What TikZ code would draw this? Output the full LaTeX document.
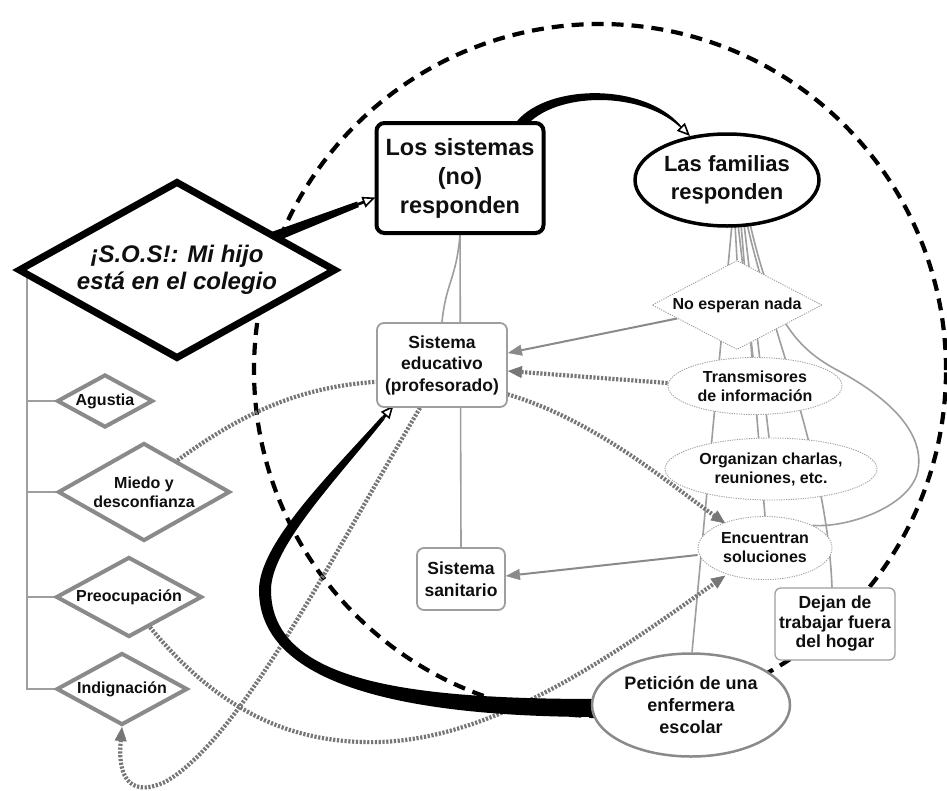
\documentclass[tikz,border=0pt]{standalone}
\usepackage{fontspec}
\setmainfont{Liberation Sans}
\usetikzlibrary{shapes.geometric,arrows.meta,calc,backgrounds}
\definecolor{mygray}{RGB}{138,138,138}
\definecolor{dgray}{RGB}{118,118,118}
\definecolor{lgray}{RGB}{158,158,158}
\definecolor{txt}{RGB}{15,15,15}
\begin{document}
\begin{tikzpicture}[x=1pt,y=1pt,
  nbase/.style={text=txt, align=center, inner sep=0pt, fill=white},
  sosd/.style={nbase, diamond, draw=black, line width=7pt, aspect=1.79, minimum width=318pt, minimum height=178pt, font=\fontsize{24}{27}\selectfont\bfseries\itshape},
  emo/.style={nbase, diamond, draw=mygray, line width=4pt, font=\fontsize{16}{19}\selectfont\bfseries},
  bigbox/.style={nbase, rectangle, rounded corners=8pt, draw=black, line width=4pt, font=\fontsize{23.5}{29}\selectfont\bfseries},
  bigell/.style={nbase, ellipse, draw=black, line width=3.5pt, font=\fontsize{22}{28}\selectfont\bfseries},
  sysbox/.style={nbase, rectangle, rounded corners=7pt, draw=lgray, line width=1.8pt, font=\fontsize{17.5}{21.5}\selectfont\bfseries},
  finedash/.style={draw=lgray, line width=0.9pt, dash pattern=on 1.2pt off 1.2pt},
  dotell/.style={nbase, ellipse, finedash, font=\fontsize{16}{19}\selectfont\bfseries},
  dotdiam/.style={nbase, diamond, finedash, font=\fontsize{16}{19}\selectfont\bfseries},
  dejbox/.style={nbase, rectangle, rounded corners=6pt, draw=lgray, line width=1.3pt, font=\fontsize{17.5}{19.5}\selectfont\bfseries},
  petell/.style={nbase, ellipse, draw=mygray, line width=2.5pt, font=\fontsize{18}{22}\selectfont\bfseries},
  treeline/.style={draw=lgray, line width=1.8pt},
  glink/.style={draw=lgray, line width=1.6pt},
  garrow/.style={draw=mygray, line width=2pt, -{Triangle[length=14pt,width=11pt,line width=0.5pt]}},
  dotarrow/.style={draw=dgray, line width=4.2pt, dash pattern=on 2.2pt off 1.6pt, -{Triangle[length=14pt,width=12pt,line width=0.5pt]}},
  openarrow/.style={draw=black, -{Triangle[open,length=13pt,width=11pt,line width=1.6pt]}},
  circdash/.style={draw=black, line width=4.2pt, dash pattern=on 12pt off 8pt},
]
\useasboundingbox (0,0) rectangle (947,-790);

% nodes
\node[sosd] (sos) at (177,-270) {¡S.O.S!: Mi hijo\\está en el colegio};
\node[emo, minimum width=96pt, minimum height=53pt, aspect=1.82] (agus) at (105,-401) {Agustia};
\node[emo, minimum width=172pt, minimum height=98pt, aspect=1.76] (miedo) at (144,-492) {Miedo y\\desconfianza};
\node[emo, minimum width=146pt, minimum height=80pt, aspect=1.83] (preo) at (129,-597) {Preocupación};
\node[emo, minimum width=131pt, minimum height=72pt, aspect=1.83] (indig) at (122,-689) {Indignación};
\node[bigbox, minimum width=167pt, minimum height=110pt] (los) at (460,-178) {Los sistemas\\(no)\\responden};
\node[bigell, minimum width=184pt, minimum height=92pt] (fam) at (727,-180) {Las familias\\responden};
\node[sysbox, minimum width=130pt, minimum height=84pt] (sed) at (442,-365) {Sistema\\educativo\\(profesorado)};
\node[sysbox, minimum width=88pt, minimum height=62pt] (ssan) at (461,-579) {Sistema\\sanitario};
\node[dotdiam, minimum width=170pt, minimum height=89pt, aspect=1.91] (nada) at (737,-305) {No esperan nada};
\node[dotell, minimum width=174pt, minimum height=57pt] (trans) at (755,-386) {Transmisores\\de información};
\node[dotell, minimum width=212pt, minimum height=62pt] (org) at (771,-469) {Organizan charlas,\\reuniones, etc.};
\node[dotell, minimum width=134pt, minimum height=63pt] (enc) at (765,-548) {Encuentran\\soluciones};
\node[dejbox, minimum width=120pt, minimum height=72pt] (dej) at (835,-624) {Dejan de\\trabajar fuera\\del hogar};
\node[petell, minimum width=198pt, minimum height=103pt] (pet) at (691,-705) {Petición de una\\enfermera\\escolar};

\begin{scope}[on background layer]
  \fill[white] (0,0) rectangle (947,-790);
  % big dashed circle
  \coordinate (cc) at (600,-370);
  \draw[circdash] (cc) circle[radius=346];
  % tree of emotions
  \coordinate (tr) at (27,-272);
  \draw[treeline] (tr) |- (agus.west);
  \draw[treeline] (tr) |- (miedo.west);
  \draw[treeline] (tr) |- (preo.west);
  \draw[treeline] (tr) |- (indig.west);
  % systems
  \draw[glink] (los.south) .. controls +(-4,-45) and +(4,40) .. (sed.north);
  \draw[glink] (los.south) -- (ssan.north);
  % families
  \draw[glink] ($(fam.south)+(8,4)$) -- (nada.north);
  \draw[glink] ($(fam.south)+(11,4)$) -- ($(trans.north)+(-2,0)$);
  \draw[glink] ($(fam.south)+(14,4)$) -- (enc.north);
  \draw[glink] ($(fam.south)+(17,4)$) -- ($(org.north)+(-2,0)$);
  \draw[glink] ($(fam.south)+(5,4)$) -- ($(pet.north)+(1,0)$);
  \draw[glink] ($(fam.south)+(20,4)$) .. controls (772,-334) and (827,-458) .. ($(dej.north)+(-3,0)$);
  \draw[glink] ($(fam.south)+(23,4)$) .. controls (770,-310) and (790,-345) .. (837,-370)
     .. controls (884,-395) and (925,-430) .. (918,-470)
     .. controls (912,-505) and (850,-528) .. (enc.north east);
  % gray arrows
  \draw[garrow] ($(nada.west)!0.3!(nada.south)$) -- ($(sed.east)+(0,12)$);
  \draw[garrow] ($(enc.west)+(0,-7)$) -- ($(ssan.east)+(0,3)$);
  % dotted arrows
  \draw[dotarrow] ($(trans.west)+(0,3)$) -- ($(sed.east)+(0,-6)$);
  \draw[dotarrow] ($(miedo.north)!0.38!(miedo.east)$) .. controls (260,-400) and (330,-375) .. (440,-382)
     .. controls (560,-390) and (650,-470) .. ($(enc.north west)+(8,2)$);
  \draw[dotarrow] ($(preo.south)!0.28!(preo.east)$) .. controls (210,-700) and (280,-745) .. (380,-742)
     .. controls (500,-738) and (620,-650) .. ($(enc.south west)+(8,-5)$);
  \draw[dotarrow] ($(sed.south)+(-22,0)$) .. controls (330,-560) and (240,-740) .. (165,-782)
     .. controls (125,-800) and (118,-770) .. (indig.south);
  % black tapered connectors
  \fill[black] (269.6,-244.2) -- (358.9,-207.1) -- (357.1,-201.5) -- (266.4,-233.8) -- cycle;
  \coordinate (a1) at (358,-204.3);
  \coordinate (a1t) at ($(los.west)+(1,-19.5)$);
  \draw[openarrow, line width=2.8pt] (a1) -- (a1t);
  \fill[black] (522,-131) .. controls (548,-92) and (638,-89) .. (679.4,-126.6) -- (680.6,-125.4)
     .. controls (642,-81) and (542,-84) .. (514,-125) -- cycle;
  \coordinate (a2) at (680,-126);
  \coordinate (a2t) at (690,-136);
  \draw[openarrow, line width=1.5pt] (a2) -- (a2t);
  \fill[black] (600,-699) .. controls (420,-699) and (271,-685) .. (271,-590)
     .. controls (271,-547) and (338,-478) .. (384.5,-419.3) -- (381.5,-416.7)
     .. controls (332,-472) and (259,-543) .. (259,-590)
     .. controls (259,-690) and (420,-717) .. (600,-717) -- cycle;
  \coordinate (a3) at (383,-418);
  \coordinate (a3t) at (393.5,-405.5);
  \draw[openarrow, line width=3pt] (a3) -- (a3t);
\end{scope}
\end{tikzpicture}
\end{document}
